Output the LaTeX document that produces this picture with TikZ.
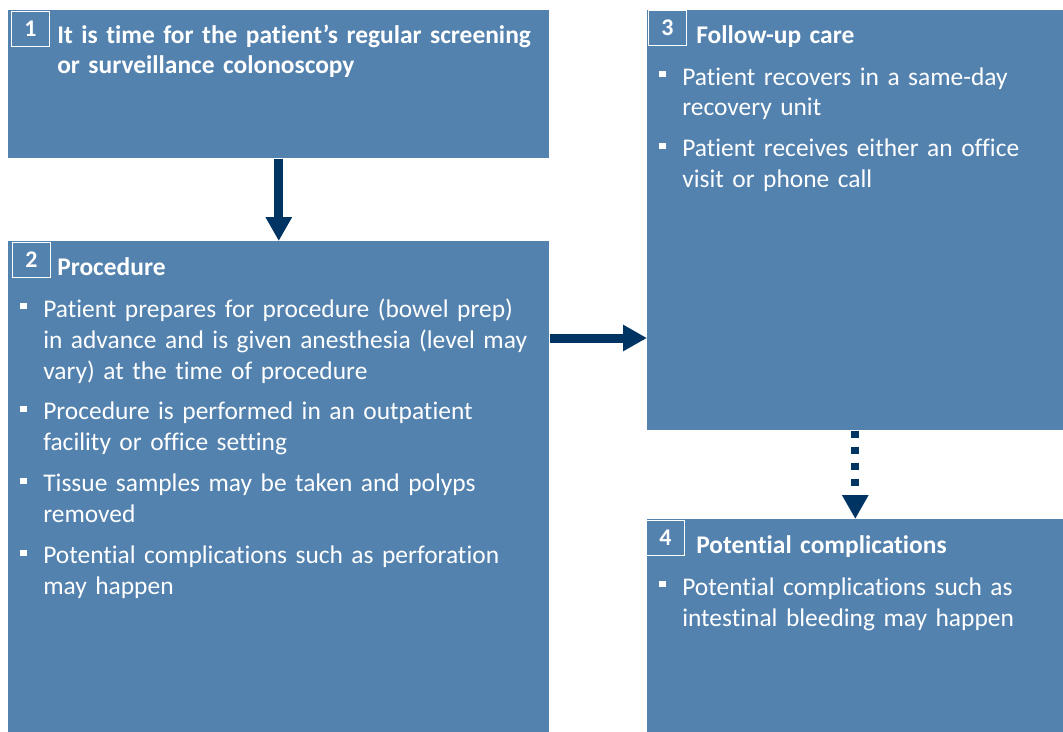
\documentclass[tikz,border=0pt]{standalone}
\usepackage{fontspec}
\setmainfont{Carlito}[Ligatures=NoCommon]
\usetikzlibrary{arrows.meta}
\definecolor{boxblue}{RGB}{83,130,175}
\definecolor{arrowblue}{RGB}{0,52,98}
\newcommand\bul{\makebox[0.575cm][l]{\raisebox{0.2cm}{\rule{0.16cm}{0.16cm}}}}
\newcommand\hng{\hspace*{0.575cm}}
\tikzset{
	stepbox/.style={fill=boxblue, inner sep=0pt, anchor=north west},
	badge/.style={draw=white, line width=0.7pt, fill=boxblue, text=white, inner sep=0pt,
		font=\fontsize{17}{18}\selectfont\bfseries, minimum width=0.95cm, minimum height=0.875cm, anchor=north west},
	title/.style={text=white, inner sep=0pt, anchor=base west, align=left,
		font=\fontsize{18.1}{22.05}\selectfont\bfseries},
	items/.style={text=white, inner sep=0pt, anchor=base west, align=left,
		font=\fontsize{18.1}{22.05}\selectfont},
	arr/.style={draw=arrowblue, line width=0.225cm, -{Triangle[length=0.6cm,width=0.625cm]}},
}
\begin{document}
\begin{tikzpicture}
		\useasboundingbox (0,0) rectangle (26.575,-18.3);

		\node[stepbox, minimum width=13.525cm, minimum height=3.7cm] (b1) at (0.2,-0.25) {};
		\node[stepbox, minimum width=13.525cm, minimum height=12.275cm] (b2) at (0.2,-6.025) {};
		\node[stepbox, minimum width=10.4cm, minimum height=10.5cm] (b3) at (16.175,-0.25) {};
		\node[stepbox, minimum width=10.4cm, minimum height=5.325cm] (b4) at (16.175,-12.975) {};

		\node[badge] (n1) at (0.275,-0.275) {1};
		\node[badge] (n2) at (0.3,-6.05) {2};
		\node[badge] (n3) at (16.2,-0.25) {3};
		\node[badge] (n4) at (16.15,-13.0) {4};

		\node[title, text width=13cm] (t1) at (1.425,-1.075) {It is time for the patient’s regular screening\\or surveillance colonoscopy};
		\node[title, text width=12cm] (t2) at (1.425,-6.875) {Procedure};
		\node[title, text width=9cm] (t3) at (17.4,-1.075) {Follow-up care};
		\node[title, text width=9cm] (t4) at (17.4,-13.825) {Potential complications};

		\node[items, text width=13cm] (l2) at (0.5,-7.925) {%
			\bul Patient prepares for procedure (bowel prep)\\
			\hng in advance and is given anesthesia (level may\\
			\hng vary) at the time of procedure\\[0.25cm]
			\bul Procedure is performed in an outpatient\\
			\hng facility or office setting\\[0.25cm]
			\bul Tissue samples may be taken and polyps\\
			\hng removed\\[0.25cm]
			\bul Potential complications such as perforation\\
			\hng may happen};
		\node[items, text width=10cm] (l3) at (16.475,-2.125) {%
			\bul Patient recovers in a same-day\\
			\hng recovery unit\\[0.25cm]
			\bul Patient receives either an office\\
			\hng visit or phone call};
		\node[items, text width=10cm] (l4) at (16.475,-14.875) {%
			\bul Potential complications such as\\
			\hng intestinal bleeding may happen};

		\draw[arr] (b1) -- (b2);
		\draw[arr] ([yshift=-2.425cm]b2.north east) coordinate (p) -- (p -| b3.west);
		\draw[arr, line width=0.2cm, dash pattern=on 0.18cm off 0.22cm] (b3) -- (b4);
	\end{tikzpicture}
\end{document}
